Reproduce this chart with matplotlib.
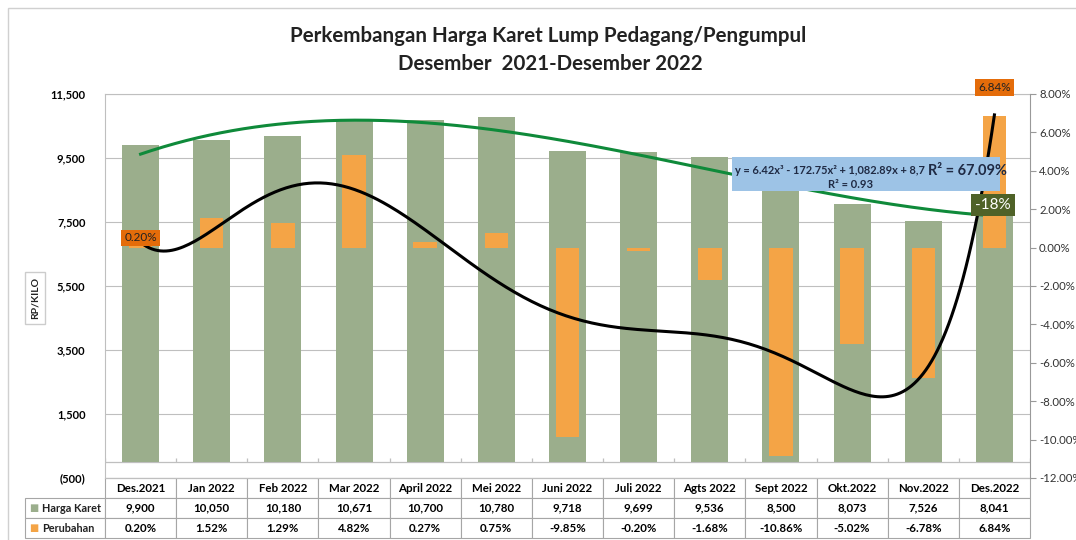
import numpy as np
import matplotlib.pyplot as plt
from matplotlib.patches import Rectangle

plt.rcParams['font.family'] = ['Lato', 'DejaVu Sans']

months = ["Des.2021", "Jan 2022", "Feb 2022", "Mar 2022", "April 2022", "Mei 2022",
          "Juni 2022", "Juli 2022", "Agts 2022", "Sept 2022", "Okt.2022", "Nov.2022", "Des.2022"]
harga = [9900, 10050, 10180, 10671, 10700, 10780, 9718, 9699, 9536, 8500, 8073, 7526, 8041]
perubahan = [0.20, 1.52, 1.29, 4.82, 0.27, 0.75, -9.85, -0.20, -1.68, -10.86, -5.02, -6.78, 6.84]

GREEN_BAR = "#9bae8c"
ORANGE_BAR = "#f4a446"
ORANGE_LBL = "#e46c0a"
TREND_GREEN = "#0f8a3a"
GRID = "#bfbfbf"

fig = plt.figure(figsize=(10.76, 5.4), dpi=100)
ax = fig.add_axes([105 / 1076, 62 / 540, 925 / 1076, 384 / 540])
ax2 = ax.twinx()

x = np.arange(1, len(months) + 1)

# left axis: harga
ax.bar(x, harga, width=0.52, color=GREEN_BAR, zorder=2)
ax.set_xlim(0.5, len(months) + 0.5)
ax.set_ylim(-500, 11500)
ax.set_yticks(np.arange(-500, 11501, 2000))
ax.set_yticklabels(["(500)" if v < 0 else f"{v:,}" for v in np.arange(-500, 11501, 2000)],
                   fontsize=8, fontweight="bold")
ax.tick_params(axis="y", length=0, pad=14)
ax.set_xticks([])
ax.grid(axis="y", color=GRID, lw=0.8, zorder=0)
# category axis at zero with small boundary ticks
ax.axhline(0, color=GRID, lw=0.9, zorder=1)
ax.vlines(np.arange(0.5, len(months) + 1, 1), 0, 130, color=GRID, lw=0.9, zorder=1)
for s in ["left", "top"]:
    ax.spines[s].set_color(GRID)
ax.spines["right"].set_visible(False)
ax.spines["bottom"].set_color(GRID)

# right axis: perubahan
ax2.set_zorder(ax.get_zorder() + 1)
ax2.patch.set_visible(False)
ax2.bar(x, perubahan, width=0.33, color=ORANGE_BAR, zorder=3)
ax2.set_ylim(-12, 8)
ax2.set_yticks(np.arange(-12, 8.1, 2))
ax2.set_yticklabels([f"{v:.2f}%" for v in np.arange(-12, 8.1, 2)], fontsize=8.2, color="#333333")
ax2.tick_params(axis="y", length=4, pad=2.5, color="#999999")
ax2.spines["right"].set_color("#999999")
for s in ["left", "top", "bottom"]:
    ax2.spines[s].set_visible(False)

# trendlines
xs = np.linspace(1, len(months), 300)
p3 = np.polyfit(x, harga, 3)
ax.plot(xs, np.polyval(p3, xs), color=TREND_GREEN, lw=2.2, zorder=4)
p6 = np.polyfit(x, perubahan, 6)
ax2.plot(xs, np.polyval(p6, xs), color="black", lw=2.2, zorder=5)

# data labels
ax2.text(x[0], perubahan[0] + 0.3, f"{perubahan[0]:.2f}%", ha="center", va="center", fontsize=8.5,
         color="#222222", bbox=dict(boxstyle="square,pad=0.25", fc=ORANGE_LBL, ec="none"), zorder=6)
ax2.text(x[-1], perubahan[-1] + 1.5, f"{perubahan[-1]:.2f}%", ha="center", va="center", fontsize=8.5,
         color="#222222", bbox=dict(boxstyle="square,pad=0.25", fc=ORANGE_LBL, ec="none"), zorder=6)

# equation box
fig.patches.append(Rectangle((732 / 1076, 1 - 191 / 540), 268 / 1076, 34 / 540,
                             transform=fig.transFigure, fc="#9dc3e6", ec="none", zorder=7))
fig.text(735 / 1076, 1 - 170 / 540, "y = 6.42x³ - 172.75x² + 1,082.89x + 8,7", ha="left",
         va="center", fontsize=7.9, fontweight="bold", color="#1f2a44", zorder=8)
fig.text(967 / 1076, 1 - 171 / 540, "R² = 67.09%", ha="center", va="center", fontsize=10.5,
         fontweight="bold", color="#1f2a44", zorder=8)
fig.text(850 / 1076, 1 - 184 / 540, "R² = 0.93", ha="center", va="center", fontsize=8,
         fontweight="bold", color="#1f2a44", zorder=8)
fig.text(993 / 1076, 1 - 205 / 540, "-18%", ha="center", va="center", fontsize=11, color="white",
         bbox=dict(boxstyle="square,pad=0.25", fc="#4f6228", ec="none"), zorder=8)

# title
fig.text(548 / 1076, 1 - 36 / 540, "Perkembangan Harga Karet Lump Pedagang/Pengumpul",
         ha="center", va="center", fontsize=14.8, fontweight="bold", color="#222222")
fig.text(550 / 1076, 1 - 64 / 540, "Desember  2021-Desember 2022",
         ha="center", va="center", fontsize=14.8, fontweight="bold", color="#222222")

# y label
fig.text(35 / 1076, 1 - 298 / 540, "RP/KILO", rotation=90, ha="center", va="center", fontsize=7.5,
         fontweight="bold", color="#222222",
         bbox=dict(boxstyle="square,pad=0.5", fc="white", ec="#cccccc"))

# data table
row_names = ["Harga Karet", "Perubahan"]
cells = [[""] + months,
         [""] + [f"{v:,}" for v in harga],
         [""] + [f"{v:.2f}%" for v in perubahan]]
x0 = -80 / 925
th = 60 / 384
tbl = ax.table(cellText=cells, cellLoc="center", bbox=[x0, -th, 1 - x0, th])
tbl.auto_set_font_size(False)
ncol = len(months) + 1
widths = [-x0] + [1 / len(months)] * len(months)
left = x0
for c in range(ncol):
    for r in range(3):
        cell = tbl[r, c]
        cell.set_x(left)
        cell.set_width(widths[c])
        cell.set_edgecolor("#a6a6a6")
        cell.set_linewidth(0.8)
        cell.get_text().set_fontsize(8.3)
        cell.get_text().set_fontweight("bold")
        if r == 0 and c == 0:
            cell.set_edgecolor("white")
    left += widths[c]
for i, (name, col) in enumerate(zip(row_names, [GREEN_BAR, ORANGE_BAR])):
    yy = -th + th / 3 * (1.5 - i)
    ax.text(x0 + 0.004, yy, "■", transform=ax.transAxes, fontsize=7, color=col,
            va="center", ha="left", clip_on=False)
    ax.text(x0 + 0.018, yy, name, transform=ax.transAxes, fontsize=7.8, fontweight="bold",
            color="#222222", va="center", ha="left", clip_on=False)

# outer border
fig.patches.append(Rectangle((8 / 1076, -0.05), 1.1, 1 - 8 / 540 + 0.05, transform=fig.transFigure,
                             fill=False, ec="#d0d0d0", lw=1))

fig.savefig("out.png", dpi=100)
